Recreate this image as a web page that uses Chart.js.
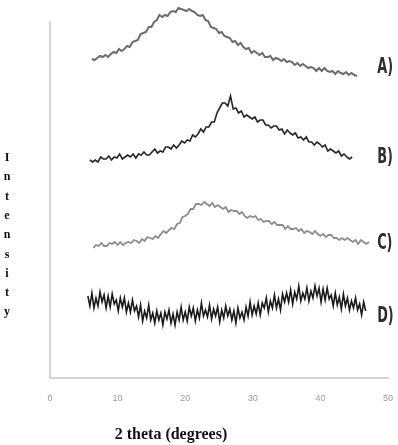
<!DOCTYPE html>
<html><head><meta charset="utf-8">
<script src="https://cdn.jsdelivr.net/npm/chart.js@4.4.1/dist/chart.umd.min.js"></script>
<style>html,body{margin:0;padding:0;background:#fff;overflow:hidden}#wrap{width:398px;height:445px;position:relative}canvas{display:block}</style>
</head><body><div id="wrap"><canvas id="c"></canvas></div>
<script>
// ---- data (2θ sampling start/step per pattern, intensities, stacked offsets) ----
const xTicks = [0, 10, 20, 30, 40, 50];
const seriesNames = ['A)', 'B)', 'C)', 'D)'];

const aStart = 6.2, aStep = 0.4;
const aValues = [319,318,320,322,321,323,321,324,326,325,329,327,329,332,331,336,337,338,344,345,
346,351,351,356,358,363,361,363,362,366,367,366,370,369,368,367,369,367,366,363,
362,363,358,357,351,350,349,345,346,342,341,340,336,337,333,335,331,329,330,325,
327,325,323,325,321,321,322,318,320,319,317,319,316,317,316,313,315,312,314,312,
310,311,310,307,310,307,310,307,306,307,304,307,305,304,306,303,305,303,302];

const bStart = 5.9, bStep = 0.4;
const bValues = [218,216,218,216,221,219,219,222,218,221,220,224,219,221,223,221,224,220,224,223,
226,223,223,226,229,225,227,226,231,231,229,233,230,233,237,235,238,237,243,241,
244,249,246,251,251,256,256,265,270,275,275,272,282,269,270,265,267,261,263,261,
259,261,256,258,258,253,253,250,252,252,248,249,244,248,245,243,245,240,241,238,
241,236,236,233,236,234,231,233,227,229,227,225,227,222,224,221,219,221];

const cStart = 6.4, cStep = 0.4;
const cValues = [130,133,132,135,132,132,135,134,136,133,136,133,135,136,135,138,137,135,139,137,
141,140,139,142,140,144,147,145,148,150,149,154,155,161,162,164,169,169,174,174,
173,176,174,172,175,171,173,171,169,171,166,168,167,167,164,166,162,160,162,161,
162,158,159,156,157,157,154,156,153,153,153,149,152,149,149,150,147,149,145,147,
146,144,147,144,142,144,141,143,143,140,140,138,140,138,140,138,136,138,134,138,
136,134,136];

const dStart = 5.6, dStep = 0.3;
const dValues = [82,72,85,70,80,72,86,76,83,70,82,71,84,74,78,67,80,71,80,66,
75,66,78,67,72,61,73,57,67,60,73,58,65,55,67,58,65,53,66,59,
68,55,64,53,66,58,71,58,66,57,71,62,70,57,68,60,75,62,68,61,
73,59,69,62,71,56,68,60,72,62,69,58,67,55,70,60,66,58,71,62,
76,63,72,64,75,63,75,70,80,66,77,70,83,70,79,68,84,76,85,76,
88,74,86,79,92,77,85,79,90,77,87,80,92,82,90,76,89,78,90,79,
83,72,85,73,81,69,84,72,80,68,77,70,80,68,74,63,76,67];

function toPoints(start, step, vals) {
  return vals.map((v, i) => ({ x: Math.round((start + i * step) * 100) / 100, y: v }));
}

const textPlugin = {
  id: 'texts',
  afterDatasetsDraw(chart, args, opts) {
    const ctx = chart.ctx, xs = chart.scales.x, ys = chart.scales.y;
    ctx.save();
    // series labels (condensed)
    ctx.fillStyle = '#2e2e2e';
    ctx.textAlign = 'left';
    ctx.textBaseline = 'middle';
    chart.data.datasets.forEach((ds, i) => {
      const last = ds.data[ds.data.length - 1];
      const px = xs.getPixelForValue(opts.labelX);
      const py = ys.getPixelForValue(last.y) + opts.labelDy[i];
      ctx.save();
      ctx.translate(px, py);
      ctx.scale(0.68, 1);
      ctx.font = 'bold 21px "DejaVu Sans Condensed", "DejaVu Sans", sans-serif';
      ctx.fillText(ds.label, 0, 0);
      ctx.restore();
    });
    // vertical stacked y title
    ctx.font = 'bold 12px "Liberation Serif", "Times New Roman", serif';
    ctx.fillStyle = '#111';
    ctx.textAlign = 'center';
    const word = opts.yTitle;
    for (let k = 0; k < word.length; k++) {
      ctx.fillText(word[k], 7, 158 + k * 19.3);
    }
    // x title
    ctx.font = 'bold 16px "Liberation Serif", "Times New Roman", serif';
    ctx.fillText(opts.xTitle, 171, 435);
    ctx.restore();
  }
};

const colors = ['#6c6c6c', '#262626', '#8c8c8c', '#1a1a1a'];
const widths = [2, 1.6, 1.8, 1.6];
const datasets = [
  toPoints(aStart, aStep, aValues),
  toPoints(bStart, bStep, bValues),
  toPoints(cStart, cStep, cValues),
  toPoints(dStart, dStep, dValues)
].map((pts, i) => ({
  label: seriesNames[i],
  data: pts,
  borderColor: colors[i],
  borderWidth: widths[i],
  pointRadius: 0,
  tension: 0,
  fill: false,
  clip: false
}));

new Chart(document.getElementById('c'), {
  type: 'line',
  data: { datasets },
  options: {
    responsive: true,
    maintainAspectRatio: false,
    animation: false,
    events: [],
    layout: { padding: { top: 22, right: 10, left: 0, bottom: 0 } },
    plugins: {
      legend: { display: false },
      tooltip: { enabled: false },
      texts: { labelX: 48.4, labelDy: [-8, 1, 2, 6], yTitle: 'Intensity', xTitle: '2 theta (degrees)' }
    },
    scales: {
      x: {
        type: 'linear', min: 0, max: 50,
        afterBuildTicks: s => { s.ticks = xTicks.map(v => ({ value: v })); },
        ticks: { color: '#9a9a9a', font: { size: 9 }, padding: 15, maxRotation: 0 },
        grid: { display: false, drawTicks: false },
        border: { color: '#d4d4d4', width: 2 },
        afterFit: s => { s.height = 67; s.paddingLeft = 0; s.paddingRight = 0; }
      },
      y: {
        min: 0, max: 356,
        ticks: { display: false },
        grid: { display: false, drawTicks: false },
        border: { color: '#d4d4d4', width: 2 },
        afterFit: s => { s.width = 50; s.paddingTop = 0; s.paddingBottom = 0; }
      }
    }
  },
  plugins: [textPlugin]
});
</script>
</body></html>
